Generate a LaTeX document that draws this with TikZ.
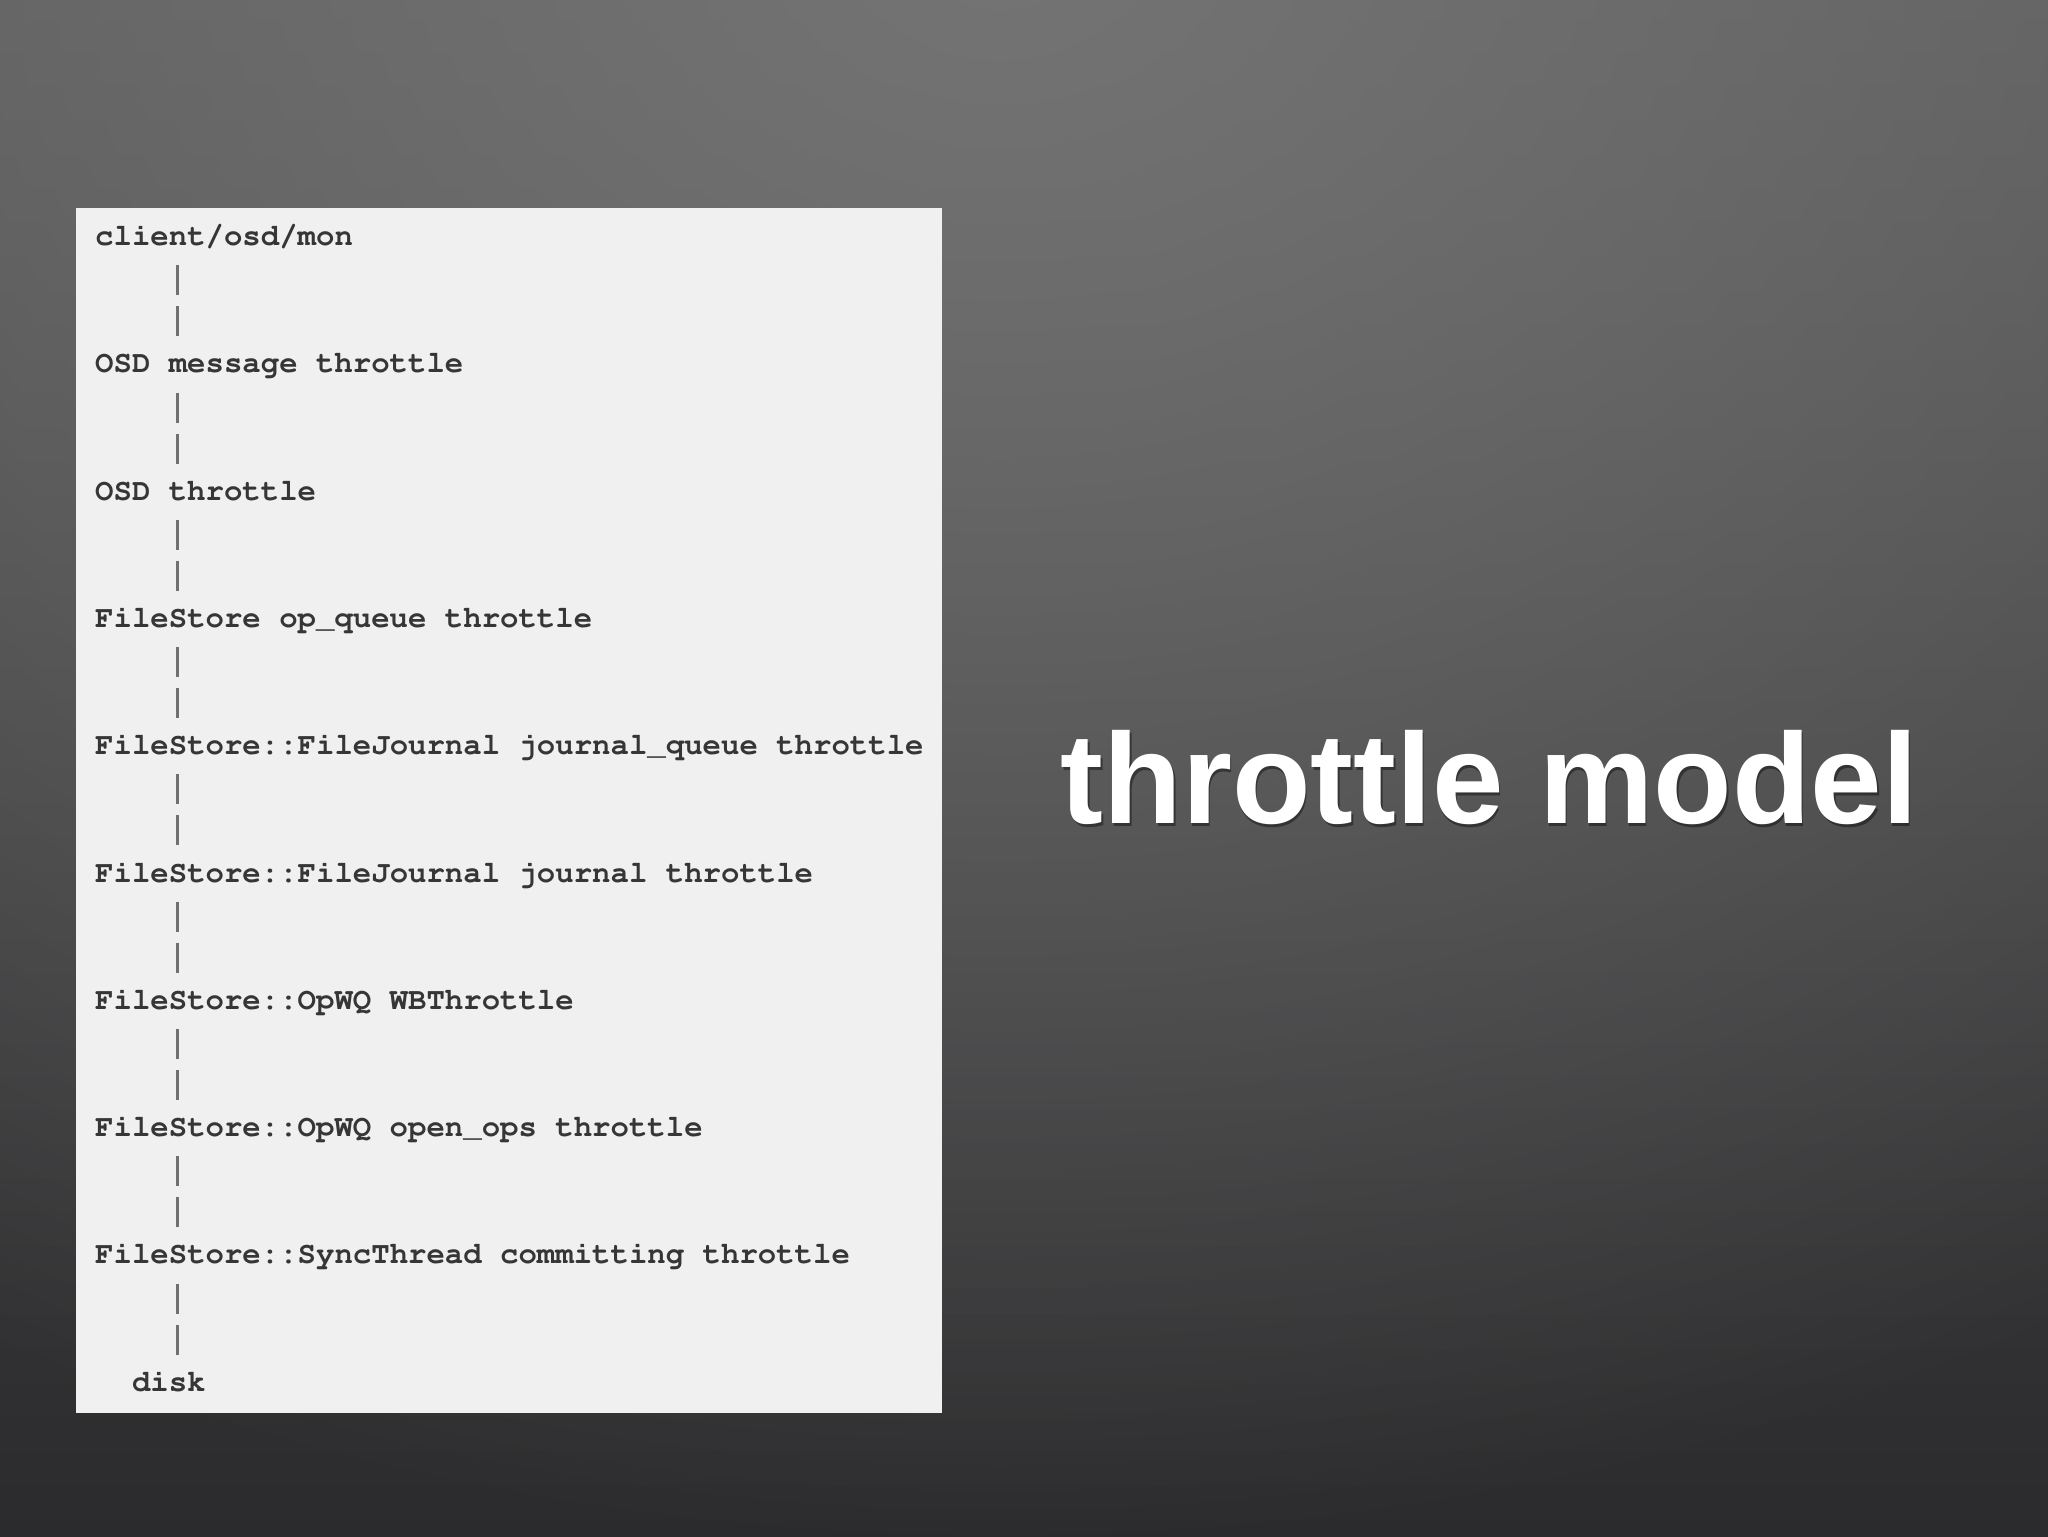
\documentclass[tikz,border=0pt]{standalone}
\usepackage[T1]{fontenc}
\usepackage{fontspec}
\newfontfamily\slidefont{Liberation Sans}
\usetikzlibrary{fadings}

\definecolor{bgtop}{HTML}{585858}
\definecolor{bgbottom}{HTML}{2B2B2D}
\definecolor{bgglow}{HTML}{747474}
\definecolor{panelfill}{HTML}{F0F0F1}
\definecolor{codeink}{HTML}{363636}
\definecolor{pipegray}{HTML}{707070}

\newcommand{\codefont}{\fontencoding{T1}\fontfamily{pcr}\fontseries{b}\fontsize{8.73pt}{10pt}\selectfont}
\tikzfading[name=glowfade, inner color=transparent!0, outer color=transparent!100]

\tikzset{
  codeline/.style={anchor=base west, inner sep=0pt, text height=2.1mm,
    text depth=0.7mm, text=codeink, font=\codefont},
  pipe/.style={draw=pipegray, line width=0.22mm, shorten <=1.2mm,
    shorten >=1.45mm, dash pattern=on 3.0mm off 1.1mm},
  titletext/.style={anchor=base west, inner sep=0pt, text=white,
    font=\slidefont\bfseries\fontsize{36.6pt}{40pt}\selectfont}
}

\begin{document}
\begin{tikzpicture}[x=0.1mm, y=-0.1mm]
\useasboundingbox (0,0) rectangle (2048,1536);
%% background
\begin{scope}
\clip (0,0) rectangle (2048,1536);
\shade[top color=bgtop, bottom color=bgbottom] (0,0) rectangle (2048,1536);
\fill[bgglow, path fading=glowfade] (1000,-50) ellipse [x radius=2100, y radius=1600];
\end{scope}
\fill[panelfill] (76,208) rectangle (942,1413);

%% client
\path (94.5,245.5) node[codeline] (client) {client/osd/mon};
%% OSD message throttle
\path (client.base west) ++(0,127.3) node[codeline] (osdmsg) {OSD message throttle};
\path[pipe] ([xshift=8.3mm]client.south west) -- ([xshift=8.3mm]osdmsg.north west);
%% OSD throttle
\path (osdmsg.base west) ++(0,127.3) node[codeline] (osd) {OSD throttle};
\path[pipe] ([xshift=8.3mm]osdmsg.south west) -- ([xshift=8.3mm]osd.north west);
%% op_queue
\path (osd.base west) ++(0,127.3) node[codeline] (opqueue) {FileStore op\_queue throttle};
\path[pipe] ([xshift=8.3mm]osd.south west) -- ([xshift=8.3mm]opqueue.north west);
%% journal_queue
\path (opqueue.base west) ++(0,127.3) node[codeline] (jqueue) {FileStore::FileJournal journal\_queue throttle};
\path[pipe] ([xshift=8.3mm]opqueue.south west) -- ([xshift=8.3mm]jqueue.north west);
%% journal
\path (jqueue.base west) ++(0,127.3) node[codeline] (journal) {FileStore::FileJournal journal throttle};
\path[pipe] ([xshift=8.3mm]jqueue.south west) -- ([xshift=8.3mm]journal.north west);
%% WBThrottle
\path (journal.base west) ++(0,127.3) node[codeline] (wbthr) {FileStore::OpWQ WBThrottle};
\path[pipe] ([xshift=8.3mm]journal.south west) -- ([xshift=8.3mm]wbthr.north west);
%% open_ops
\path (wbthr.base west) ++(0,127.3) node[codeline] (openops) {FileStore::OpWQ open\_ops throttle};
\path[pipe] ([xshift=8.3mm]wbthr.south west) -- ([xshift=8.3mm]openops.north west);
%% committing
\path (openops.base west) ++(0,127.3) node[codeline] (commit) {FileStore::SyncThread committing throttle};
\path[pipe] ([xshift=8.3mm]openops.south west) -- ([xshift=8.3mm]commit.north west);
%% disk
\path (commit.base west) ++(36.8,127.3) node[codeline] (disk) {disk};
\path[pipe] ([xshift=8.3mm]commit.south west) -- ([xshift=8.3mm]commit.south west |- disk.north);

%% title
\node[titletext, black, opacity=.4] (titleshadow) at (1061.5,826.5) {throttle model};
\node[titletext] (title) at (1060,823) {throttle model};
\end{tikzpicture}
\end{document}
